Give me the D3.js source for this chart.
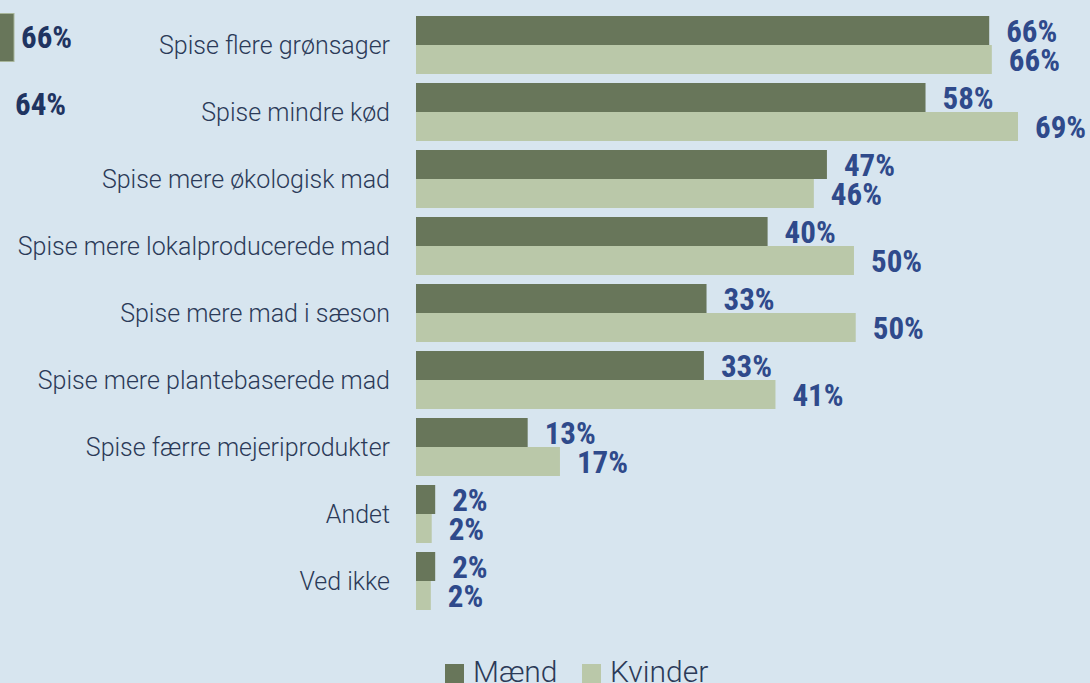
<!DOCTYPE html>
<html>
<head>
<meta charset="utf-8">
<script src="https://cdn.jsdelivr.net/npm/d3@7"></script>
<style>
  html, body { margin: 0; padding: 0; background: #d7e5ef; }
  svg { display: block; }
</style>
</head>
<body>
<svg id="chart" width="1090" height="683"></svg>
<script>
const categories = [
  "Spise flere grønsager",
  "Spise mindre kød",
  "Spise mere økologisk mad",
  "Spise mere lokalproducerede mad",
  "Spise mere mad i sæson",
  "Spise mere plantebaserede mad",
  "Spise færre mejeriprodukter",
  "Andet",
  "Ved ikke"
];
const seriesNames = ["Mænd", "Kvinder"];
const maend   = [65.7, 58.4, 47.1, 40.3, 33.3, 33.0, 12.8, 2.2, 2.2];
const kvinder = [66.0, 69.0, 45.6, 50.2, 50.4, 41.2, 16.5, 1.8, 1.7];
const fragmentLabels = ["66%", "64%"];

const colors = { "Mænd": "#68765a", "Kvinder": "#bac8a9" };
const labelFont = "'Liberation Sans Narrow', 'Roboto Condensed', Roboto, sans-serif";
const catFont = "Roboto, 'Open Sans', sans-serif";

const svg = d3.select("#chart");
svg.append("rect").attr("width", 1090).attr("height", 683).attr("fill", "#d7e5ef");

const x = d3.scaleLinear().domain([0, 69]).range([416, 1018]);
const y = d3.scaleBand().domain(categories).range([16, 610]).paddingInner(9 / 67);
const ys = d3.scaleBand().domain(seriesNames).range([0, y.bandwidth()]);

const rows = categories.map((c, i) => ({ cat: c, values: [
  { s: "Mænd", v: maend[i] }, { s: "Kvinder", v: kvinder[i] }
]}));

const g = svg.append("g");
const row = g.selectAll("g.row").data(rows).join("g")
  .attr("class", "row")
  .attr("transform", d => `translate(0,${y(d.cat)})`);

row.selectAll("rect").data(d => d.values).join("rect")
  .attr("x", x(0))
  .attr("y", d => ys(d.s))
  .attr("width", d => x(d.v) - x(0))
  .attr("height", ys.bandwidth())
  .attr("fill", d => colors[d.s]);

row.selectAll("text.val").data(d => d.values).join("text")
  .attr("class", "val")
  .attr("x", d => x(d.v) + 17)
  .attr("y", d => ys(d.s) + ys.bandwidth() / 2 + 11)
  .attr("font-family", labelFont)
  .attr("font-weight", 700)
  .attr("font-size", 31)
  .attr("fill", "#2f4a8b")
  .text(d => d3.format(".0f")(d.v) + "%");

// category labels
g.selectAll("text.cat").data(categories).join("text")
  .attr("class", "cat")
  .attr("x", 390)
  .attr("y", d => y(d) + y.bandwidth() / 2 + 9)
  .attr("text-anchor", "end")
  .attr("font-family", catFont)
  .attr("font-weight", 300)
  .attr("font-size", 25)
  .attr("fill", "#2b3a58")
  .text(d => d);

// cropped fragment of neighbouring chart at the left edge
svg.append("rect").attr("x", -2).attr("y", 13.5).attr("width", 16).attr("height", 48)
  .attr("fill", "#68765a").attr("stroke", "#a7b59a").attr("stroke-width", 1);
svg.selectAll("text.frag").data(fragmentLabels).join("text")
  .attr("class", "frag")
  .attr("x", (d, i) => i === 0 ? 21 : 15)
  .attr("y", (d, i) => i === 0 ? 48 : 115)
  .attr("font-family", labelFont)
  .attr("font-weight", 700)
  .attr("font-size", 31)
  .attr("fill", "#1f3461")
  .text(d => d);

// legend
const legend = svg.append("g");
const lx = [445, 582];
seriesNames.forEach((s, i) => {
  legend.append("rect").attr("x", lx[i]).attr("y", 664).attr("width", 19).attr("height", 22).attr("fill", colors[s]);
  legend.append("text").attr("x", lx[i] + 28).attr("y", 682)
    .attr("font-family", catFont).attr("font-weight", 300).attr("font-size", 30)
    .attr("fill", "#2b3a58").text(s);
});
</script>
</body>
</html>
